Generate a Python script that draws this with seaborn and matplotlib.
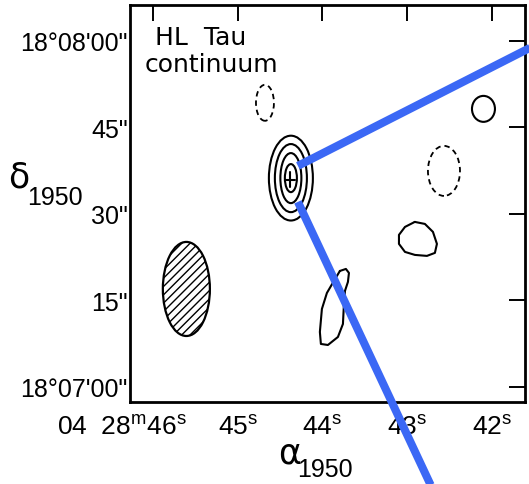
import numpy as np
import pandas as pd
import matplotlib
matplotlib.use("Agg")
import matplotlib.pyplot as plt
import matplotlib.transforms as mtransforms
from matplotlib.patches import Ellipse
import seaborn as sns

# ---- axes: RA seconds of 04h28m, Dec arcsec past 18°07'00" (B1950) ----
ra_ticks = [46, 45, 44, 43, 42]
ra_labels = [r"04  28$\mathregular{^m}$46$\mathregular{^s}$", r"45$\mathregular{^s}$",
             r"44$\mathregular{^s}$", r"43$\mathregular{^s}$", r"42$\mathregular{^s}$"]
dec_ticks = [0, 15, 30, 45, 60]
dec_labels = ['18°07\'00"', '15"', '30"', '45"', '18°08\'00"']
ra_limits = (46.27, 41.61)
dec_limits = (-2.6, 66.2)

# ---- HL Tau: nested continuum contours ----
source_ra = 44.372
source_dec = 36.2
ring_width = [0.519, 0.378, 0.248, 0.142]   # s of RA
ring_height = [14.7, 11.8, 8.67, 4.86]      # arcsec
peak_ra, peak_dec = 44.383, 35.9

# ---- isolated single-level contours ----
solid_ra = [42.100]
solid_dec = [48.2]
solid_w = [0.271]
solid_h = [4.5]

dashed_ra = [44.678, 42.566]
dashed_dec = [49.25, 37.45]
dashed_w = [0.212, 0.378]
dashed_h = [6.24, 8.67]

blob_a_ra = [42.91, 43.026, 43.097, 43.097, 43.026, 42.909, 42.767, 42.673, 42.649, 42.696, 42.791]
blob_a_dec = [28.61, 27.74, 26.36, 24.80, 23.41, 22.89, 22.72, 23.24, 24.80, 26.88, 28.26]

blob_b_ra = [43.794, 43.723, 43.687, 43.699, 43.734, 43.746, 43.758, 43.817, 43.935,
             44.018, 44.030, 44.006, 43.947, 43.864]
blob_b_dec = [20.11, 20.46, 19.77, 18.21, 16.65, 14.39, 10.92, 8.67, 7.28,
              7.46, 9.54, 13.53, 16.30, 18.38]

# ---- synthesized beam ----
beam_ra, beam_dec, beam_w, beam_h = 45.605, 16.99, 0.555, 16.3

# ---- outflow axes ----
lobe_ra = [[44.289, 41.434], [44.289, 42.673]]
lobe_dec = [[38.32, 59.65], [32.08, -18.55]]
lobe_color = "#3b68f5"

sns.set_theme(style="white")
plt.rcParams["font.family"] = ["Liberation Sans", "DejaVu Sans"]
plt.rcParams["mathtext.fontset"] = "custom"
plt.rcParams["mathtext.rm"] = "Liberation Sans"
plt.rcParams["mathtext.it"] = "Liberation Sans:italic"
plt.rcParams["hatch.linewidth"] = 1.0
plt.rcParams["text.color"] = "black"
plt.rcParams["xtick.color"] = "black"
plt.rcParams["ytick.color"] = "black"
plt.rcParams["axes.labelcolor"] = "black"

W, H = 529, 485
fig = plt.figure(figsize=(W / 100, H / 100), dpi=100)
fig.patch.set_facecolor("white")
ax = fig.add_axes([130 / W, 1 - 403 / H, 395 / W, 397 / H])
ax.set_facecolor("white")

lw = 1.5
# nested source rings
for w, h in zip(ring_width, ring_height):
    ax.add_patch(Ellipse((source_ra, source_dec), w, h, fill=False, ec="black", lw=lw))
# peak marker
ax.plot([peak_ra - 0.06, peak_ra + 0.06], [peak_dec, peak_dec], color="black", lw=lw)
ax.plot([peak_ra, peak_ra], [peak_dec - 1.3, peak_dec + 1.3], color="black", lw=lw)

for x, y, w, h in zip(solid_ra, solid_dec, solid_w, solid_h):
    ax.add_patch(Ellipse((x, y), w, h, fill=False, ec="black", lw=lw))
for x, y, w, h in zip(dashed_ra, dashed_dec, dashed_w, dashed_h):
    ax.add_patch(Ellipse((x, y), w, h, fill=False, ec="black", lw=1.3,
                         ls=(0, (3, 2.2))))

for bra, bdec in [(blob_a_ra, blob_a_dec), (blob_b_ra, blob_b_dec)]:
    df = pd.DataFrame({"ra": bra + [bra[0]], "dec": bdec + [bdec[0]]})
    sns.lineplot(data=df, x="ra", y="dec", sort=False, estimator=None,
                 color="black", lw=lw, ax=ax, legend=False)

# beam
ax.add_patch(Ellipse((beam_ra, beam_dec), beam_w, beam_h, fill=False,
                     ec="black", lw=1.6, hatch="////"))

# outflow lines
for xs, ys in zip(lobe_ra, lobe_dec):
    ax.plot(xs, ys, color=lobe_color, lw=5.8, solid_capstyle="butt",
            clip_on=False, zorder=10)

ax.set_xlim(*ra_limits)
ax.set_ylim(*dec_limits)
ax.set_xlabel("")
ax.set_ylabel("")
ax.set_xticks(ra_ticks)
ax.set_xticklabels(ra_labels, fontsize=19)
ax.set_yticks(dec_ticks)
ax.set_yticklabels(dec_labels, fontsize=18)
ax.tick_params(axis="both", direction="in", length=11.5, width=1.4,
               top=True, right=True, color="black", labelcolor="black")
ax.tick_params(axis="x", pad=9)
ax.tick_params(axis="y", pad=1.5)
for s in ax.spines.values():
    s.set_visible(True)
    s.set_color("black")
    s.set_linewidth(2.0)

first = ax.xaxis.get_major_ticks()[0].label1
first.set_horizontalalignment("right")
first.set_transform(first.get_transform() +
                    mtransforms.ScaledTranslation(0.34, 0, fig.dpi_scale_trans))

ax.text(0.063, 0.902, "HL  Tau", transform=ax.transAxes, fontsize=18,
        family="DejaVu Sans", va="baseline", ha="left", color="black")
ax.text(0.038, 0.834, "continuum", transform=ax.transAxes, fontsize=18,
        family="DejaVu Sans", va="baseline", ha="left", color="black")

# axis titles
fig.text(8 / W, 1 - 188 / H, "δ", fontsize=25, family="DejaVu Sans", va="baseline")
fig.text(27 / W, 1 - 205 / H, "1950", fontsize=18, va="baseline")
fig.text(278 / W, 1 - 463 / H, "α", fontsize=25, family="DejaVu Sans", va="baseline")
fig.text(297 / W, 1 - 477 / H, "1950", fontsize=18, va="baseline")

fig.savefig("out.png", dpi=100, facecolor="white")
